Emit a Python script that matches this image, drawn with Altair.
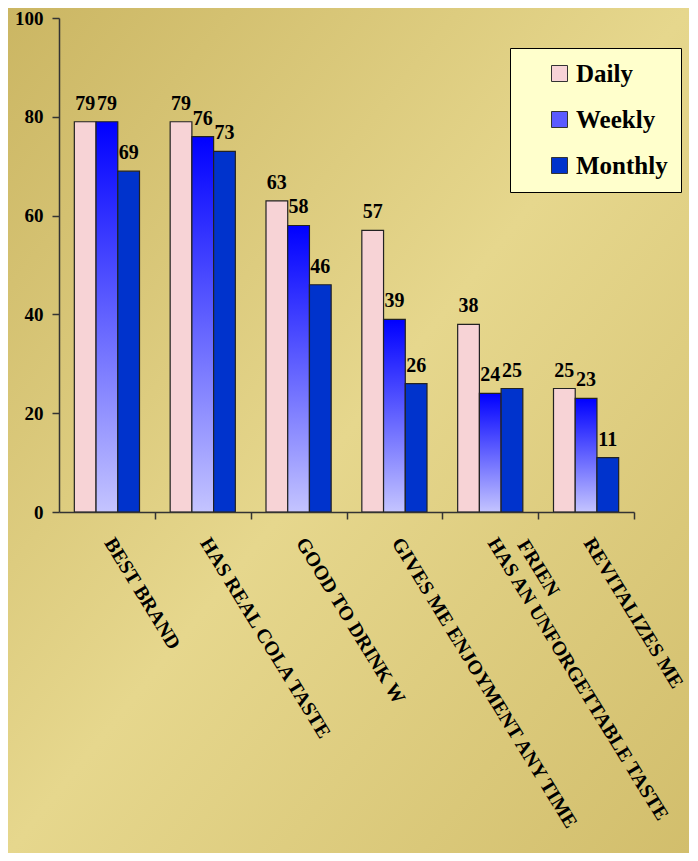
import altair as alt
import pandas as pd

categories = ["BEST BRAND", "HAS REAL COLA TASTE", "GOOD TO DRINK W",
              "GIVES ME ENJOYMENT ANY TIME", "HAS AN UNFORGETTABLE TASTE", "REVITALIZES ME"]
series = ["Daily", "Weekly", "Monthly"]
daily = [79, 79, 63, 57, 38, 25]
weekly = [79, 76, 58, 39, 24, 23]
monthly = [69, 73, 46, 26, 25, 11]
y_ticks = [0, 20, 40, 60, 80, 100]
overlap_text = "FRIEN"
overlap_cat = "HAS AN UNFORGETTABLE TASTE"

rows = []
for i, c in enumerate(categories):
    for s, vals in zip(series, [daily, weekly, monthly]):
        rows.append({"cat": c, "freq": s, "value": vals[i]})
df = pd.DataFrame(rows)

W, H = 575, 494
STEP = W / len(categories)
FONT = "Liberation Serif"
TICK, LPAD = 7, 15
LOFF = 10

bg_grad = {"gradient": "linear", "x1": 0, "y1": 0, "x2": 1, "y2": 1,
           "stops": [{"offset": 0, "color": "#CBB663"},
                     {"offset": 0.5, "color": "#E6D78D"},
                     {"offset": 1, "color": "#D2BE6C"}]}
weekly_grad = {"gradient": "linear", "x1": 0, "y1": 0, "x2": 0, "y2": 1,
               "stops": [{"offset": 0, "color": "#0000FF"},
                         {"offset": 1, "color": "#C4C4FF"}]}

xaxis = alt.Axis(zindex=2, labelAngle=58.5, labelAlign="left", labelBaseline="top",
                 labelFontSize=20, tickSize=TICK, labelPadding=LPAD,
                 tickOffset=STEP / 2, labelOffset=LOFF - STEP / 2,
                 labelLimit=1000, labelOverlap=False)
yaxis = alt.Axis(zindex=2, values=y_ticks, labelFontSize=19, tickSize=7, labelPadding=9)

xenc = alt.X("cat:N", sort=categories, title=None, axis=xaxis,
             scale=alt.Scale(paddingInner=0.32, paddingOuter=0.16))
yenc = alt.Y("value:Q", title=None, axis=yaxis,
             scale=alt.Scale(domain=[0, 100], nice=False))
xoff = alt.XOffset("freq:N", sort=series, scale=alt.Scale(paddingInner=0, paddingOuter=0))

bg = alt.Chart(alt.Data(values=[{"a": 1}])).mark_rect(fill=bg_grad).encode(
    x=alt.value(-51), x2=alt.value(630), y=alt.value(-10), y2=alt.value(835)
)

bars = alt.Chart(df).mark_bar(stroke="#222222", strokeWidth=1.2).encode(
    x=xenc,
    xOffset=xoff,
    y=yenc,
    fill=alt.condition(
        "datum.freq === 'Weekly'",
        alt.value(weekly_grad),
        alt.Fill("freq:N", sort=series,
                 scale=alt.Scale(domain=series, range=["#F7D3D6", "#5A5AFF", "#0033CC"]),
                 legend=alt.Legend(title=None)),
    ),
)

labels = alt.Chart(df).mark_text(
    font=FONT, fontSize=20, fontWeight="bold", color="#000000",
    baseline="middle", dy=-18
).encode(
    x=xenc,
    xOffset=xoff,
    y=yenc,
    text=alt.Text("value:Q"),
)

frien = alt.Chart(alt.Data(values=[{"cat": overlap_cat, "t": overlap_text}])).mark_text(
    font=FONT, fontSize=20, fontWeight="bold", color="#000000",
    angle=58.5, align="left", baseline="top", dx=23, dy=-33
).encode(
    x=xenc,
    y=alt.value(H + TICK + LPAD),
    text="t:N",
)

chart = alt.layer(bg, bars, labels, frien).properties(
    width=W, height=H, padding=0, background="#D8C678"
).configure_view(stroke=None).configure_axis(
    domainColor="#333333", domainWidth=1.5, tickColor="#333333", tickWidth=1.5,
    labelColor="#000000", labelFont=FONT, labelFontWeight="bold", grid=False
).configure_legend(
    orient="none", legendX=451, legendY=30, fillColor="#FFFFCC", strokeColor="#000000",
    padding=13, symbolType="square", symbolSize=256, symbolStrokeColor="#333333",
    symbolStrokeWidth=1, symbolOffset=24, labelFont=FONT, labelFontSize=25,
    labelFontWeight="bold", labelColor="#000000", labelOffset=4, rowPadding=20,
    labelLimit=500
)

chart.save("out.html", embed_options={"renderer": "svg", "actions": False})
